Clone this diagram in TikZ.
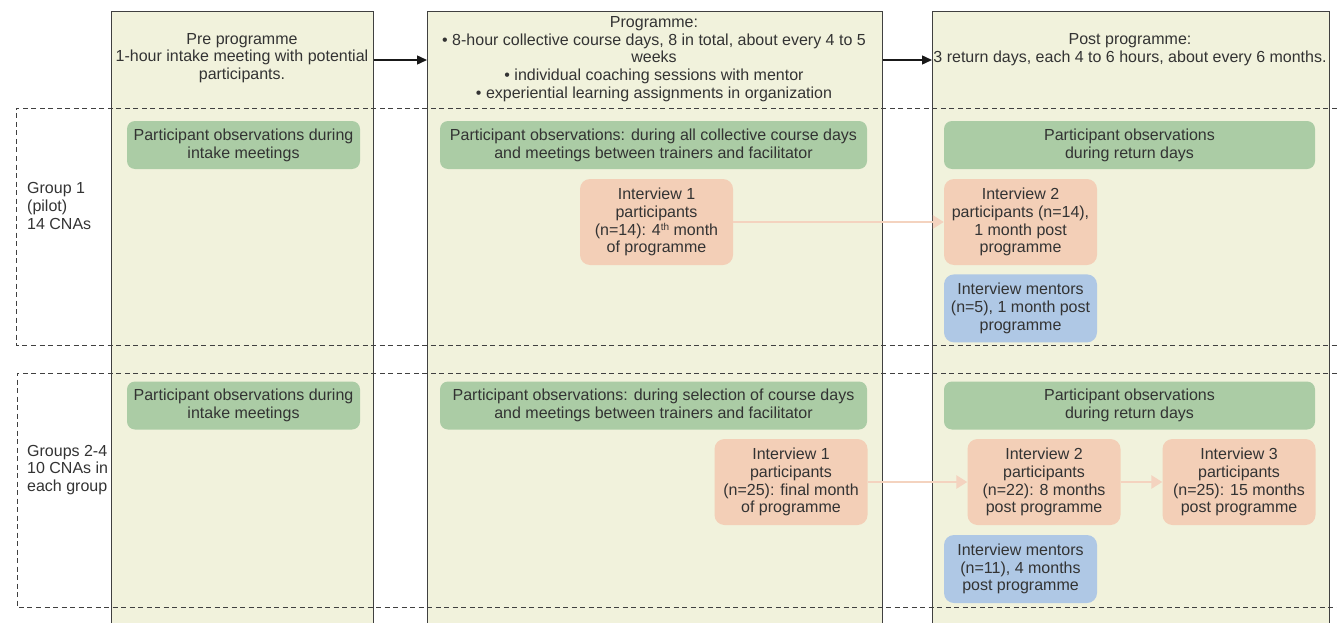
\documentclass[tikz,border=0pt]{standalone}
\usepackage{fontspec}
\setmainfont{Liberation Sans}
\usetikzlibrary{arrows.meta,positioning}
\definecolor{colbg}{HTML}{F1F2DC}
\definecolor{obsgreen}{HTML}{ABCCA5}
\definecolor{intorange}{HTML}{F3CFB7}
\definecolor{mentblue}{HTML}{AFC8E5}
\definecolor{followline}{HTML}{F4D3BF}
\definecolor{txt}{HTML}{333333}
\tikzset{
  column/.style={rectangle, draw=black!75, line width=0.9pt, fill=colbg, anchor=north west,
    minimum height=640, inner sep=0pt},
  headtext/.style={align=center, text=txt, inner sep=0pt},
  obsbox/.style={rectangle, rounded corners=8, fill=obsgreen, align=center, text=txt,
    minimum height=48, inner sep=0pt},
  intbox/.style={rectangle, rounded corners=10, fill=intorange, align=center, text=txt,
    minimum width=153, minimum height=86, inner sep=0pt},
  mentbox/.style={rectangle, rounded corners=10, fill=mentblue, align=center, text=txt,
    minimum width=153, minimum height=68, inner sep=0pt},
  phase/.style={draw=black!90, line width=1.4pt, -{Triangle[length=10pt,width=9pt]}},
  follow/.style={draw=followline, line width=2.6pt, -{Triangle[length=11pt,width=13pt]}},
  groupline/.style={draw=black!75, line width=0.8pt, dash pattern=on 5pt off 3.5pt},
  grouplabel/.style={anchor=west, align=left, text=txt, inner sep=0pt}
}

\begin{document}
\begin{tikzpicture}[x=1pt, y=-1pt, font=\fontsize{16}{17.8}\selectfont]
  \useasboundingbox (0,0) rectangle (1337,623);
  \clip (0,0) rectangle (1337,623);
  % Columns
  \node [column, minimum width=262] (pre) at (111,11) {};
  \node [column, minimum width=455] (prog) at (427,11) {};
  \node [column, minimum width=397] (post) at (932,11) {};
  % Column headings
  \node [headtext] (prehead) at (242,58) {Pre programme\\1-hour intake meeting with potential\\participants.};
  \node [headtext] (proghead) at (654,59) {Programme:\\\textbullet{} 8-hour collective course days, 8 in total, about every 4 to 5\\weeks\\\textbullet{} individual coaching sessions with mentor\\\textbullet{} experiential learning assignments in organization};
  \node [headtext] (posthead) at (1130,50) {Post programme:\\3 return days, each 4 to 6 hours, about every 6 months.};
  \coordinate (phasey) at (0,60);
  \draw [phase] (phasey -| pre.east) -- (phasey -| prog.west);
  \draw [phase] (phasey -| prog.east) -- (phasey -| post.west);
  % Group frames
  \draw [groupline] (1345,108) -- (16,108) -- (16,345) -- (1345,345);
  \draw [groupline] (1345,373) -- (17,373) -- (17,607) -- (1345,607);
  \node [grouplabel] (grpa) at (27,206) {Group 1\\(pilot)\\14 CNAs};
  \node [grouplabel] (grpb) at (27,470) {Groups 2-4\\10 CNAs in\\each group};
  % Group 1
  \node [obsbox, minimum width=233] (obspre1) at (243.5,145) {Participant observations during\\intake meetings};
  \node [obsbox, minimum width=427] (obsprog1) at (653.5,145) {Participant observations: during all collective course days\\and meetings between trainers and facilitator};
  \node [obsbox, minimum width=371] (obspost1) at (1129.5,145) {Participant observations\\during return days};
  \node [intbox] (intone1) at (656.5,222) {Interview 1\\participants\\(n=14): 4\raisebox{5pt}{\fontsize{10}{10}\selectfont th} month\\of programme};
  \node [intbox] (inttwo1) at (1020.5,222) {Interview 2\\participants (n=14),\\1 month post\\programme};
  \node [mentbox, below=9pt of inttwo1] (ment1) {Interview mentors\\(n=5), 1 month post\\programme};
  % Group 2
  \node [obsbox, minimum width=233] (obspre2) at (243.5,405.5) {Participant observations during\\intake meetings};
  \node [obsbox, minimum width=427] (obsprog2) at (653.5,405.5) {Participant observations: during selection of course days\\and meetings between trainers and facilitator};
  \node [obsbox, minimum width=371] (obspost2) at (1129.5,405.5) {Participant observations\\during return days};
  \node [intbox] (intone2) at (791,482) {Interview 1\\participants\\(n=25): final month\\of programme};
  \node [intbox] (inttwo2) at (1044,482) {Interview 2\\participants\\(n=22): 8 months\\post programme};
  \node [intbox] (intthree2) at (1239,482) {Interview 3\\participants\\(n=25): 15 months\\post programme};
  \node [mentbox] (ment2) at (1020.5,569) {Interview mentors\\(n=11), 4 months\\post programme};
  % Follow-up arrows
  \draw [follow] (intone1) -- (inttwo1);
  \draw [follow] (intone2) -- (inttwo2);
  \draw [follow] (inttwo2) -- (intthree2);
\end{tikzpicture}
\end{document}
